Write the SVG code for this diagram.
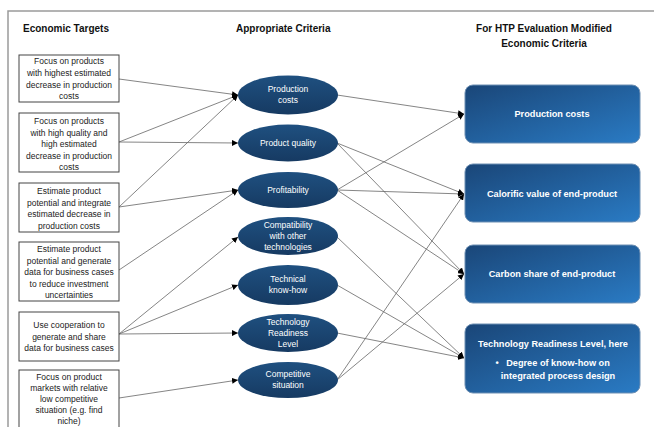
<svg xmlns="http://www.w3.org/2000/svg" width="654" height="427" viewBox="0 0 654 427">
<defs>
<linearGradient id="gEll" x1="0" y1="0" x2="0" y2="1">
<stop offset="0" stop-color="#1f5080"/>
<stop offset="1" stop-color="#163a62"/>
</linearGradient>
<linearGradient id="gBox" x1="0" y1="0" x2="1" y2="1">
<stop offset="0" stop-color="#1a4678"/>
<stop offset="1" stop-color="#2a7bc4"/>
</linearGradient>
<marker id="arr" viewBox="0 0 10 10" refX="10" refY="5" markerWidth="6" markerHeight="6" markerUnits="userSpaceOnUse" orient="auto">
<path d="M0,0 L10,5 L0,10 z" fill="#000"/>
</marker>
<style>
.hdr{font-family:"Liberation Sans",Arial,sans-serif;font-weight:bold;font-size:10px;fill:#111}
.lb rect{fill:#fff;stroke:#444;stroke-width:1}
.lb text{font-family:"Liberation Sans",Arial,sans-serif;font-size:8.5px;fill:#222;text-anchor:middle}
.el ellipse{fill:url(#gEll)}
.el text{font-family:"Liberation Sans",Arial,sans-serif;font-size:8.5px;fill:#fff;text-anchor:middle}
.rb rect{fill:url(#gBox);stroke:#6d8fb3;stroke-width:1}
.rb text{font-family:"Liberation Sans",Arial,sans-serif;font-size:9.2px;font-weight:bold;fill:#fff;text-anchor:middle}
#connectors line{stroke:#666;stroke-width:0.8;marker-end:url(#arr)}
</style>
</defs>
<rect x="0" y="0" width="654" height="427" fill="#fff"/>
<path d="M8,430 L8,11 L660,11" fill="none" stroke="#9a9a9a" stroke-width="1.5"/>

<text class="hdr" x="23" y="32">Economic Targets</text>
<text class="hdr" x="236" y="32">Appropriate Criteria</text>
<text class="hdr" x="544" y="32" text-anchor="middle">For HTP Evaluation Modified</text>
<text class="hdr" x="544" y="47" text-anchor="middle">Economic Criteria</text>

<g id="connectors">
<line x1="119" y1="79" x2="238" y2="95"/>
<line x1="119" y1="142" x2="238" y2="95"/>
<line x1="119" y1="142" x2="238" y2="143"/>
<line x1="119" y1="207" x2="238" y2="95"/>
<line x1="119" y1="207" x2="238" y2="190"/>
<line x1="119" y1="270" x2="238" y2="190"/>
<line x1="119" y1="334" x2="238" y2="237"/>
<line x1="119" y1="334" x2="238" y2="285"/>
<line x1="119" y1="334" x2="238" y2="333"/>
<line x1="119" y1="398" x2="238" y2="380"/>
<line x1="337" y1="95" x2="464" y2="114"/>
<line x1="337" y1="143" x2="464" y2="194"/>
<line x1="337" y1="143" x2="464" y2="274"/>
<line x1="337" y1="190" x2="464" y2="114"/>
<line x1="337" y1="190" x2="464" y2="194"/>
<line x1="337" y1="190" x2="464" y2="274"/>
<line x1="337" y1="237" x2="464" y2="358"/>
<line x1="337" y1="285" x2="464" y2="358"/>
<line x1="337" y1="333" x2="464" y2="358"/>
<line x1="337" y1="380" x2="464" y2="194"/>
<line x1="337" y1="380" x2="464" y2="274"/>
</g>

<g id="t1" class="lb"><rect x="19" y="55" width="100" height="47"/>
<text x="69" y="64">Focus on products</text><text x="69" y="76">with highest estimated</text><text x="69" y="87.5">decrease in production</text><text x="69" y="99">costs</text></g>
<g id="t2" class="lb"><rect x="19" y="113" width="100" height="59"/>
<text x="69" y="124">Focus on products</text><text x="69" y="135.5">with high quality and</text><text x="69" y="147">high estimated</text><text x="69" y="158.5">decrease in production</text><text x="69" y="170">costs</text></g>
<g id="t3" class="lb"><rect x="19" y="183" width="100" height="49"/>
<text x="69" y="194">Estimate product</text><text x="69" y="205.5">potential and integrate</text><text x="69" y="217">estimated decrease in</text><text x="69" y="228.5">production costs</text></g>
<g id="t4" class="lb"><rect x="19" y="242" width="100" height="59"/>
<text x="69" y="252">Estimate product</text><text x="69" y="263.5">potential and generate</text><text x="69" y="275">data for business cases</text><text x="69" y="286.5">to reduce investment</text><text x="69" y="298">uncertainties</text></g>
<g id="t5" class="lb"><rect x="19" y="312" width="100" height="49"/>
<text x="69" y="328">Use cooperation to</text><text x="69" y="339.5">generate and share</text><text x="69" y="351">data for business cases</text></g>
<g id="t6" class="lb"><rect x="19" y="370" width="100" height="62"/>
<text x="69" y="379.5">Focus on product</text><text x="69" y="390.5">markets with relative</text><text x="69" y="401.5">low competitive</text><text x="69" y="412.5">situation (e.g. find</text><text x="69" y="423.5">niche)</text></g>

<g id="c1" class="el"><ellipse cx="288" cy="95" rx="50" ry="19.5"/><text x="288" y="92">Production</text><text x="288" y="103">costs</text></g>
<g id="c2" class="el"><ellipse cx="288" cy="143" rx="50" ry="18.5"/><text x="288" y="146">Product quality</text></g>
<g id="c3" class="el"><ellipse cx="288" cy="190" rx="50" ry="18"/><text x="288" y="193">Profitability</text></g>
<g id="c4" class="el"><ellipse cx="288" cy="236" rx="50" ry="19"/><text x="288" y="228">Compatibility</text><text x="288" y="239">with other</text><text x="288" y="250">technologies</text></g>
<g id="c5" class="el"><ellipse cx="288" cy="285" rx="50" ry="20"/><text x="288" y="282">Technical</text><text x="288" y="293">know-how</text></g>
<g id="c6" class="el"><ellipse cx="288" cy="333" rx="50" ry="19"/><text x="288" y="325">Technology</text><text x="288" y="336">Readiness</text><text x="288" y="347">Level</text></g>
<g id="c7" class="el"><ellipse cx="288" cy="380" rx="50" ry="18"/><text x="288" y="377">Competitive</text><text x="288" y="388">situation</text></g>

<g id="r1" class="rb"><rect x="465" y="85" width="175" height="58" rx="8"/><text x="552" y="117">Production costs</text></g>
<g id="r2" class="rb"><rect x="465" y="164" width="175" height="58" rx="8"/><text x="552" y="197">Calorific value of end-product</text></g>
<g id="r3" class="rb"><rect x="465" y="245" width="175" height="58" rx="8"/><text x="552" y="277">Carbon share of end-product</text></g>
<g id="r4" class="rb"><rect x="465" y="324" width="175" height="69" rx="8"/><text x="553" y="347">Technology Readiness Level, here</text><text x="497" y="366" text-anchor="start">•</text><text x="558" y="366">Degree of know-how on</text><text x="558" y="379">integrated process design</text></g>
</svg>
